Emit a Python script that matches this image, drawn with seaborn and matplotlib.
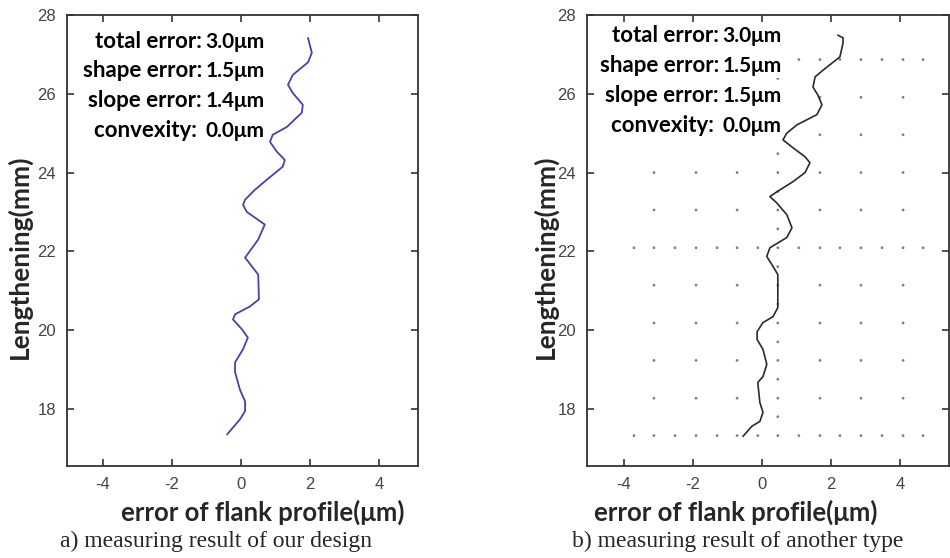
import matplotlib
matplotlib.use('Agg')
import matplotlib.pyplot as plt
import seaborn as sns
import pandas as pd

# profile of our design (panel a)
left_y = [27.42, 27.04, 26.80, 26.48, 26.23, 26.02, 25.72, 25.52, 25.16, 24.96, 24.78, 24.53,
          24.32, 24.15, 23.82, 23.56, 23.31, 23.18, 23.00, 22.68, 22.30, 21.84, 21.41, 20.78,
          20.60, 20.40, 20.27, 20.02, 19.81, 19.51, 19.18, 18.93, 18.49, 18.19, 17.94, 17.73, 17.35]
left_x = [1.94, 2.05, 1.94, 1.50, 1.36, 1.50, 1.79, 1.76, 1.33, 0.92, 0.84, 1.04,
          1.27, 1.21, 0.75, 0.40, 0.12, 0.06, 0.17, 0.69, 0.50, 0.12, 0.50, 0.52,
          0.26, -0.17, -0.23, 0.03, 0.20, 0.06, -0.17, -0.17, -0.03, 0.12, 0.12, -0.03, -0.40]

# profile of the other type (panel b)
right_y = [27.49, 27.42, 27.29, 26.94, 26.78, 26.60, 26.43, 26.17, 25.97, 25.72, 25.47, 25.21,
           25.00, 24.83, 24.65, 24.40, 24.25, 24.00, 23.77, 23.51, 23.39, 23.23, 22.93, 22.60,
           22.35, 22.09, 21.87, 21.66, 21.41, 20.57, 20.34, 20.19, 19.96, 19.76, 19.51, 19.13,
           18.82, 18.67, 18.16, 17.91, 17.68, 17.56, 17.30]
right_x = [2.20, 2.35, 2.35, 2.26, 2.03, 1.77, 1.54, 1.48, 1.62, 1.74, 1.59, 1.01,
           0.72, 0.61, 0.87, 1.25, 1.39, 1.25, 0.90, 0.43, 0.23, 0.43, 0.72, 0.87,
           0.72, 0.23, 0.14, 0.29, 0.46, 0.46, 0.32, 0.03, -0.14, -0.14, 0.03, 0.14,
           0.03, -0.12, -0.06, 0.03, -0.06, -0.29, -0.55]

# dotted template grid in panel b
grid_rows = [17.32, 18.27, 19.23, 20.18, 21.14, 22.09, 23.05, 24.00, 24.96, 25.91, 26.87]
full_rows = [17.32, 22.09, 26.87]
fine_cols = [-3.71, -3.13, -2.52, -1.91, -1.30, -0.72, -0.12, 0.46, 1.07, 1.68, 2.26, 2.87,
             3.48, 4.09, 4.67]
coarse_cols = [-3.13, -1.91, -0.72, 0.46, 1.68, 2.87, 4.09]
center_col_y = [17.80, 18.75, 19.70, 20.66, 21.61, 22.57, 23.52, 24.48, 25.43, 26.39]

labels = ['total error:', 'shape error:', 'slope error:', 'convexity: ']
values_a = ['3.0\u03bcm', '1.5\u03bcm', '1.4\u03bcm', '0.0\u03bcm']
values_b = ['3.0\u03bcm', '1.5\u03bcm', '1.5\u03bcm', '0.0\u03bcm']

yticks = [18, 20, 22, 24, 26, 28]
xticks = [-4, -2, 0, 2, 4]

sns.set_theme(style='white')
plt.rcParams['font.family'] = ['Liberation Sans', 'DejaVu Sans']
plt.rcParams['axes.unicode_minus'] = False

# build dataframes
df_a = pd.DataFrame({'err': left_x, 'len': left_y})
df_b = pd.DataFrame({'err': right_x, 'len': right_y})
dots = []
for r in grid_rows:
    cols = fine_cols if r in full_rows else coarse_cols
    for c in cols:
        dots.append((c, r))
for r in center_col_y:
    dots.append((0.46, r))
df_dots = pd.DataFrame(dots, columns=['err', 'len'])

fig = plt.figure(figsize=(9.5, 5.58), dpi=100)
ax1 = fig.add_axes([0.0705, 0.165, 0.3695, 0.808])
ax2 = fig.add_axes([0.6179, 0.165, 0.381, 0.808])

sns.scatterplot(data=df_dots, x='err', y='len', ax=ax2, s=4, color='#808080',
                edgecolor='none', zorder=1)
sns.lineplot(data=df_a, x='err', y='len', ax=ax1, sort=False, estimator=None,
             color='#4444a4', linewidth=1.3, zorder=3)
sns.lineplot(data=df_b, x='err', y='len', ax=ax2, sort=False, estimator=None,
             color='#2a2a2a', linewidth=1.2, zorder=3)

bold_font = ['Lato', 'DejaVu Sans']
for ax, xlim, vals, lx, rows in [
        (ax1, (-5.03, 5.12), values_a, 0.384, [0.927, 0.863, 0.796, 0.730]),
        (ax2, (-5.07, 5.42), values_b, 0.364, [0.940, 0.874, 0.807, 0.741])]:
    ax.set_xlim(*xlim)
    ax.set_ylim(16.55, 28)
    ax.set_xticks(xticks)
    ax.set_yticks(yticks)
    ax.set_xlabel('')
    ax.set_ylabel('')
    ax.tick_params(direction='in', top=True, right=True, length=5, width=1.2,
                   color='#333333', labelcolor='#444444', labelsize=12, pad=8,
                   bottom=True, left=True)
    for sp in ax.spines.values():
        sp.set_color('#333333')
        sp.set_linewidth(1.3)
    for lab, val, yy in zip(labels, vals, rows):
        ax.text(lx, yy, lab, transform=ax.transAxes, ha='right', va='baseline',
                fontsize=16, fontweight='bold', family=bold_font, color='black',
                bbox=dict(facecolor='white', edgecolor='none', pad=1.5), zorder=4)
        ax.text(lx + 0.01, yy, val, transform=ax.transAxes, ha='left', va='baseline',
                fontsize=15, fontweight='bold', family=bold_font, color='black',
                bbox=dict(facecolor='white', edgecolor='none', pad=1.5), zorder=4)

# axis titles placed like the original figure
for xc in [263 / 950, 736 / 950]:
    fig.text(xc, 1 - 512 / 558, 'error of flank profile(\u03bcm)', ha='center', va='center',
             fontsize=18.5, fontweight='bold', family=bold_font)
for xc in [19 / 950, 545 / 950]:
    fig.text(xc, 1 - 257 / 558, 'Lengthening(mm)', ha='center', va='center',
             rotation=90, fontsize=19, fontweight='bold', family=bold_font)

fig.text(216 / 950, 1 - 541 / 558, 'a) measuring result of our design', ha='center',
         va='center', fontsize=17, family=['Liberation Serif', 'DejaVu Serif'])
fig.text(738 / 950, 1 - 541 / 558, 'b) measuring result of another type', ha='center',
         va='center', fontsize=17, family=['Liberation Serif', 'DejaVu Serif'])

fig.savefig('out.png', dpi=100, facecolor='white')
